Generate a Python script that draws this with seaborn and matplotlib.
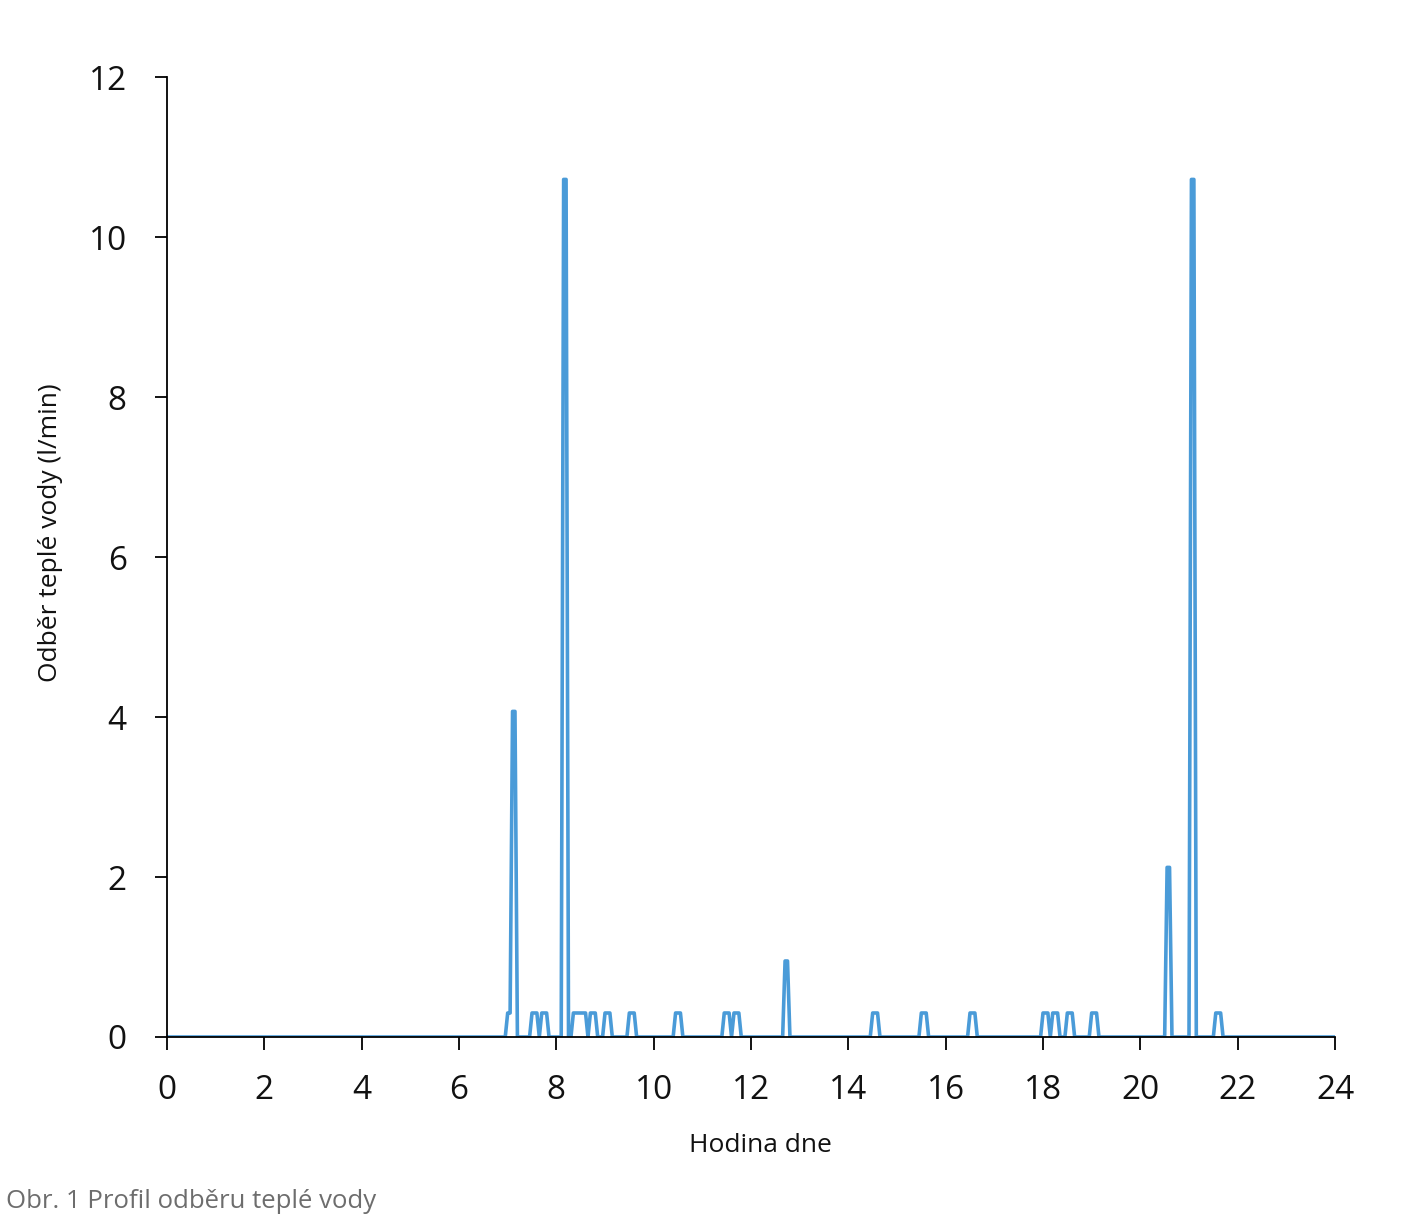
import numpy as np
import pandas as pd
import seaborn as sns
import matplotlib.pyplot as plt

# odběrové události: začátek [h], konec [h], průtok [l/min]
event_start = [7.00, 7.08, 7.50, 7.70, 8.12, 8.35, 8.70, 9.00, 9.50, 10.45, 11.45, 11.65,
               12.70, 14.50, 15.48, 16.48, 17.98, 18.18, 18.48, 18.98, 20.52, 21.02, 21.52]
event_end = [7.08, 7.20, 7.65, 7.85, 8.22, 8.65, 8.85, 9.15, 9.65, 10.60, 11.60, 11.80,
             12.80, 14.65, 15.63, 16.63, 18.13, 18.33, 18.63, 19.13, 20.62, 21.12, 21.67]
event_flow = [0.3, 4.07, 0.3, 0.3, 10.72, 0.3, 0.3, 0.3, 0.3, 0.3, 0.3, 0.3,
              0.95, 0.3, 0.3, 0.3, 0.3, 0.3, 0.3, 0.3, 2.12, 10.72, 0.3]

x_ticks = list(range(0, 25, 2))
y_ticks = list(range(0, 13, 2))

# profil po 3 minutách
step = 0.05
hours = np.round(np.arange(0, 24 + step / 2, step), 3)
flow = np.zeros_like(hours)
for s, e, q in zip(event_start, event_end, event_flow):
    flow[(hours >= s - 1e-6) & (hours < e - 1e-6)] = q
df = pd.DataFrame({'hodina': hours, 'odber': flow})

sns.set_style('white')
plt.rcParams['font.family'] = ['Open Sans', 'DejaVu Sans']

fig = plt.figure(figsize=(14.13, 12.21), dpi=100)
ax = fig.add_axes([0.1182, 0.1507, 0.8266, 0.7862])

sns.lineplot(data=df, x='hodina', y='odber', ax=ax, color='#4a9bd8', linewidth=2.6)

ax.set_xlim(0, 24)
ax.set_ylim(0, 12)
ax.set_xticks(x_ticks)
ax.set_yticks(y_ticks)
ax.tick_params(axis='both', direction='out', length=9, width=1.3, color='black',
               labelsize=24, labelcolor='#111111', bottom=True, left=True)
ax.tick_params(axis='x', pad=18)
ax.tick_params(axis='y', pad=20)
for side in ['top', 'right']:
    ax.spines[side].set_visible(False)
for side in ['left', 'bottom']:
    ax.spines[side].set_color('black')
    ax.spines[side].set_linewidth(1.3)

ax.set_xlabel('Hodina dne', fontsize=19, color='#111111')
ax.set_ylabel('Odběr teplé vody (l/min)', fontsize=19, color='#111111')
ax.xaxis.set_label_coords(0.508, -0.1)
ax.yaxis.set_label_coords(-0.089, 0.525)

fig.text(0.004, 0.011, 'Obr. 1 Profil odběru teplé vody', fontsize=18.5, color='#6d6d6d')

fig.savefig('out.png', dpi=100)
